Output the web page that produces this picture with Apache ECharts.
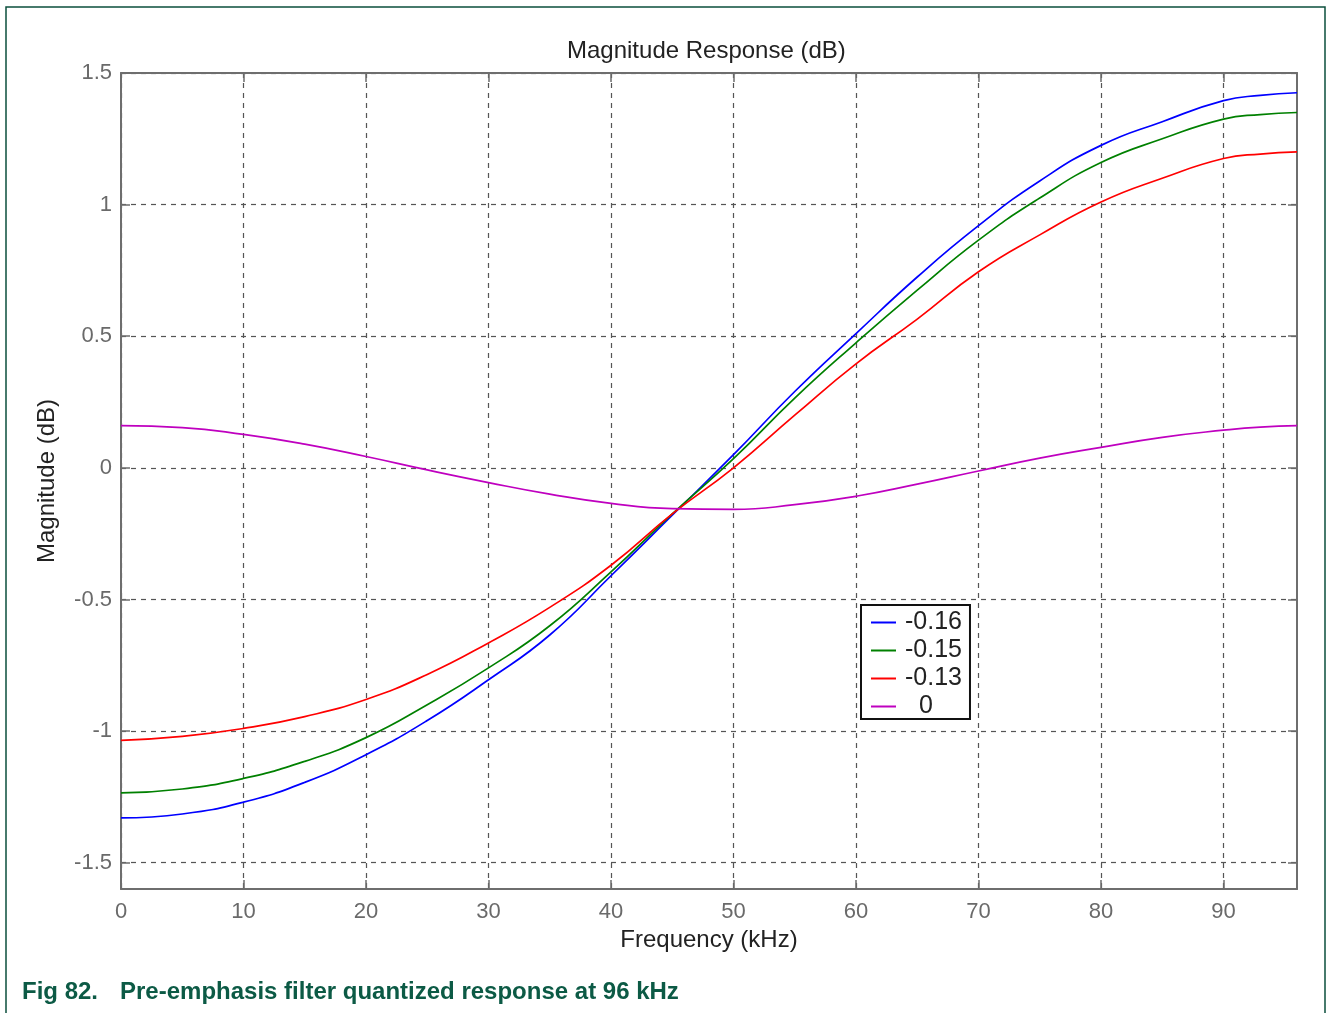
<!DOCTYPE html>
<html>
<head>
<meta charset="utf-8">
<title>Magnitude Response (dB)</title>
<script src="https://cdn.jsdelivr.net/npm/echarts@6/dist/echarts.min.js"></script>
<style>
  html, body { margin: 0; padding: 0; background: #fff; }
  #chart { width: 1328px; height: 1013px; }
</style>
</head>
<body>
<div id="chart"></div>
<script>
// frequency points (kHz)
const freq = [0, 5, 10, 15, 20, 25, 30, 35, 40, 45, 50, 55, 60, 65, 70, 75, 80, 85, 90, 93, 96];

// magnitude (dB) per coefficient
const coef016 = [-1.33, -1.315, -1.27, -1.195, -1.09, -0.96, -0.805, -0.635, -0.41, -0.18, 0.05, 0.29, 0.51, 0.725, 0.92, 1.09, 1.225, 1.315, 1.395, 1.415, 1.425];
const coef015 = [-1.235, -1.22, -1.18, -1.115, -1.025, -0.9, -0.76, -0.6, -0.395, -0.175, 0.035, 0.265, 0.475, 0.675, 0.865, 1.025, 1.16, 1.25, 1.325, 1.342, 1.35];
const coef013 = [-1.035, -1.02, -0.99, -0.945, -0.88, -0.785, -0.665, -0.53, -0.37, -0.175, 0.0, 0.2, 0.395, 0.565, 0.745, 0.885, 1.01, 1.1, 1.175, 1.192, 1.2];
const coef0 = [0.16, 0.153, 0.127, 0.09, 0.043, -0.008, -0.056, -0.1, -0.135, -0.155, -0.158, -0.14, -0.108, -0.062, -0.012, 0.037, 0.078, 0.116, 0.143, 0.155, 0.16];

const seriesNames = ['-0.16', '-0.15', '-0.13', '0'];
const seriesColors = ['#0000ff', '#008000', '#ff0000', '#bf00bf'];

const xTicks = [0, 10, 20, 30, 40, 50, 60, 70, 80, 90];
const yTicks = [-1.5, -1, -0.5, 0, 0.5, 1, 1.5];

const chart = echarts.init(document.getElementById('chart'));

const font = 'Liberation Sans, Arial, sans-serif';
const frameColor = '#6e6e6e';

function pairs(ys) {
  return freq.map((f, i) => [f, ys[i]]);
}

const allData = [coef016, coef015, coef013, coef0];

function frameAxisLine() {
  return { show: true, onZero: false, lineStyle: { color: frameColor, width: 2 } };
}

function frameTick(values) {
  return { show: true, inside: true, length: 9, customValues: values, lineStyle: { color: frameColor, width: 1.5 } };
}

const option = {
  animation: false,
  backgroundColor: '#fff',
  title: {
    text: 'Magnitude Response (dB)',
    left: 562,
    top: 34,
    textStyle: {
      fontFamily: font,
      fontSize: 24,
      fontWeight: 'normal',
      color: '#222'
    }
  },
  legend: {
    left: 861,
    top: 605,
    orient: 'vertical',
    backgroundColor: '#fff',
    borderColor: '#111',
    borderWidth: 2,
    borderRadius: 0,
    padding: [5, 8, 0, 10],
    icon: 'rect',
    itemWidth: 25,
    itemHeight: 2,
    itemGap: 3,
    data: seriesNames,
    formatter: name => (name === '0' ? '  0' : name),
    textStyle: {
      fontFamily: font,
      fontSize: 25,
      lineHeight: 25,
      padding: [0, 0, 0, 4],
      color: '#222'
    }
  },
  grid: {
    left: 121,
    right: 31,
    top: 73,
    bottom: 124,
    containLabel: false
  },
  xAxis: [{
    type: 'value',
    min: 0,
    max: 96,
    name: 'Frequency (kHz)',
    nameLocation: 'middle',
    nameGap: 37,
    nameTextStyle: { fontFamily: font, fontSize: 24, color: '#222' },
    axisLine: frameAxisLine(),
    axisTick: frameTick(xTicks),
    axisLabel: { customValues: xTicks, margin: 12, fontFamily: font, fontSize: 22, color: '#6a6a6a' },
    splitLine: { show: true, lineStyle: { color: '#555', type: [5, 5], width: 1.2 } }
  }, {
    type: 'value',
    position: 'top',
    min: 0,
    max: 96,
    axisLine: frameAxisLine(),
    axisTick: frameTick(xTicks),
    axisLabel: { show: false },
    splitLine: { show: false }
  }],
  yAxis: [{
    type: 'value',
    min: -1.6,
    max: 1.5,
    name: 'Magnitude (dB)',
    nameLocation: 'middle',
    nameGap: 62,
    nameTextStyle: { fontFamily: font, fontSize: 24, color: '#222' },
    axisLine: frameAxisLine(),
    axisTick: frameTick(yTicks),
    axisLabel: { customValues: yTicks, margin: 9, fontFamily: font, fontSize: 22, color: '#6a6a6a' },
    splitLine: { show: true, lineStyle: { color: '#555', type: [5, 5], width: 1.2 } }
  }, {
    type: 'value',
    position: 'right',
    min: -1.6,
    max: 1.5,
    axisLine: frameAxisLine(),
    axisTick: frameTick(yTicks),
    axisLabel: { show: false },
    splitLine: { show: false }
  }],
  series: seriesNames.map((name, i) => ({
    name: name,
    type: 'line',
    smooth: true,
    symbol: 'none',
    data: pairs(allData[i]),
    lineStyle: { color: seriesColors[i], width: 1.7 },
    itemStyle: { color: seriesColors[i] }
  })),
  graphic: [{
    type: 'rect',
    shape: { x: 6, y: 7, width: 1319, height: 1030 },
    style: { fill: 'none', stroke: '#0b4f3c', lineWidth: 1.5 },
    silent: true
  }, {
    type: 'text',
    left: 22,
    top: 980,
    style: {
      text: 'Fig 82.',
      fontFamily: font,
      fontSize: 24,
      fontWeight: 'bold',
      fill: '#0c5a45'
    }
  }, {
    type: 'text',
    left: 120,
    top: 980,
    style: {
      text: 'Pre-emphasis filter quantized response at 96 kHz',
      fontFamily: font,
      fontSize: 24,
      fontWeight: 'bold',
      fill: '#0c5a45'
    }
  }]
};

chart.setOption(option);
window.addEventListener('resize', () => chart.resize());
</script>
</body>
</html>
